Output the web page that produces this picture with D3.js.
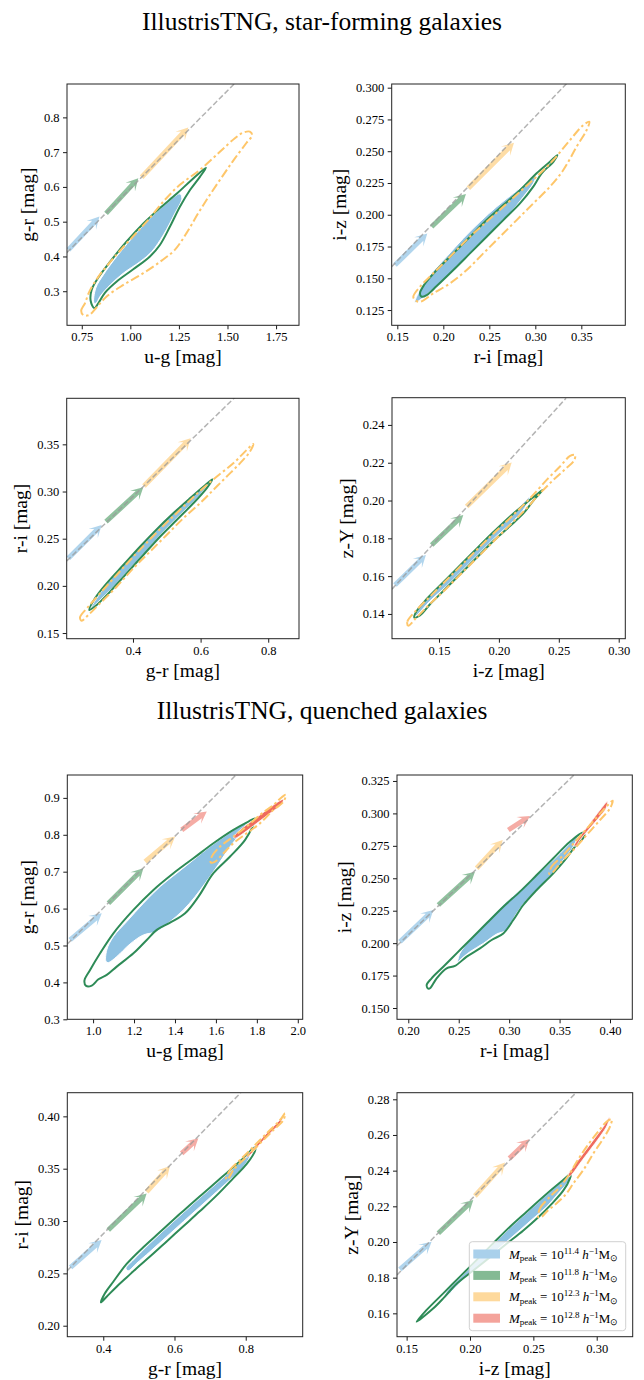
<!DOCTYPE html>
<html><head><meta charset="utf-8">
<script src="https://cdn.jsdelivr.net/npm/d3@7"></script>
<style>body{margin:0;background:#fff} svg text{font-family:"Liberation Serif","Times New Roman",serif;fill:#000}</style>
</head><body><svg id="chart" width="644" height="1380" font-family="Liberation Serif"></svg>
<script>
// ---------- titles / legend ----------
const titles = ["IllustrisTNG, star-forming galaxies", "IllustrisTNG, quenched galaxies"];
const legendMasses = ["11.4", "11.8", "12.3", "12.8"];

// ---------- Panel 1: star-forming, u-g vs g-r ----------
const p1XDomain = [0.674, 1.868], p1YDomain = [0.202, 0.896];
const p1XTicks = [0.75, 1.00, 1.25, 1.50, 1.75], p1YTicks = [0.3, 0.4, 0.5, 0.6, 0.7, 0.8];
const p1Line = [[0.673, 0.411], [1.541, 0.90]];
const p1Arrows = [[0.6815, 0.419, 0.841, 0.5146], [0.875, 0.524, 1.041, 0.625], [1.058, 0.628, 1.298, 0.771]];
const p1Blue = [[0.813,0.266],[0.822,0.309],[0.861,0.347],[0.930,0.400],[1.015,0.457],[1.101,0.510],[1.187,0.553],[1.255,0.580],[1.265,0.567],[1.229,0.524],[1.170,0.462],[1.110,0.414],[1.050,0.385],[0.964,0.352],[0.896,0.318],[0.844,0.285],[0.824,0.266]];
const p1Green = [[0.815,0.251],[0.796,0.272],[0.801,0.304],[0.836,0.340],[0.896,0.385],[0.981,0.443],[1.067,0.495],[1.152,0.539],[1.238,0.580],[1.315,0.620],[1.389,0.655],[1.358,0.629],[1.307,0.591],[1.255,0.543],[1.204,0.486],[1.152,0.433],[1.101,0.400],[1.015,0.363],[0.930,0.328],[0.870,0.296],[0.836,0.266]];
const p1Orange = [[0.759,0.231],[0.747,0.244],[0.767,0.266],[0.789,0.299],[0.836,0.342],[0.913,0.395],[0.998,0.448],[1.084,0.500],[1.170,0.558],[1.255,0.606],[1.358,0.649],[1.461,0.701],[1.538,0.740],[1.580,0.756],[1.615,0.759],[1.627,0.749],[1.598,0.727],[1.538,0.682],[1.478,0.634],[1.409,0.577],[1.349,0.524],[1.289,0.467],[1.229,0.419],[1.161,0.388],[1.067,0.352],[0.964,0.318],[0.878,0.285],[0.827,0.254],[0.789,0.232]];

// ---------- Panel 2: star-forming, r-i vs i-z ----------
const p2XDomain = [0.1439, 0.3978], p2YDomain = [0.113, 0.3029];
const p2XTicks = [0.15, 0.20, 0.25, 0.30, 0.35], p2YTicks = [0.125, 0.150, 0.175, 0.200, 0.225, 0.250, 0.275, 0.300];
const p2Line = [[0.1438, 0.159], [0.335, 0.304]];
const p2Arrows = [[0.1475, 0.1604, 0.1826, 0.1853], [0.1873, 0.1906, 0.2246, 0.2163], [0.2272, 0.2208, 0.2768, 0.2567]];
const p2Blue = [[0.1692,0.1310],[0.1746,0.1407],[0.1855,0.1525],[0.2036,0.1670],[0.2217,0.1814],[0.2399,0.1945],[0.2580,0.2063],[0.2761,0.2168],[0.2924,0.2260],[0.3007,0.2305],[0.2978,0.2247],[0.2870,0.2142],[0.2725,0.2011],[0.2543,0.1880],[0.2362,0.1748],[0.2181,0.1617],[0.2000,0.1486],[0.1855,0.1394],[0.1746,0.1329]];
const p2Green = [[0.1764,0.1355],[0.1746,0.1381],[0.1790,0.1447],[0.1928,0.1565],[0.2109,0.1696],[0.2290,0.1827],[0.2471,0.1958],[0.2652,0.2076],[0.2833,0.2194],[0.3014,0.2326],[0.3159,0.2417],[0.3239,0.2470],[0.3196,0.2417],[0.3069,0.2326],[0.2978,0.2221],[0.2833,0.2089],[0.2652,0.1958],[0.2471,0.1827],[0.2290,0.1696],[0.2109,0.1565],[0.1928,0.1439],[0.1819,0.1368]];
const p2Orange = [[0.1692,0.1329],[0.1674,0.1355],[0.1746,0.1433],[0.1928,0.1565],[0.2109,0.1696],[0.2290,0.1827],[0.2471,0.1945],[0.2652,0.2063],[0.2833,0.2181],[0.3014,0.2299],[0.3196,0.2431],[0.3377,0.2588],[0.3522,0.2706],[0.3587,0.2732],[0.3558,0.2667],[0.3449,0.2536],[0.3304,0.2352],[0.3159,0.2221],[0.2978,0.2089],[0.2797,0.1958],[0.2616,0.1827],[0.2435,0.1696],[0.2254,0.1565],[0.2072,0.1460],[0.1891,0.1381],[0.1746,0.1315]];

// ---------- Panel 3: star-forming, g-r vs r-i ----------
const p3XDomain = [0.204, 0.891], p3YDomain = [0.144, 0.3988];
const p3XTicks = [0.4, 0.6, 0.8], p3YTicks = [0.15, 0.20, 0.25, 0.30, 0.35];
const p3Line = [[0.204, 0.2263], [0.7015, 0.3998]];
const p3Arrows = [[0.2089, 0.2292, 0.3074, 0.2645], [0.3202, 0.2680, 0.4305, 0.3044], [0.4325, 0.3058, 0.5704, 0.3564]];
const p3Blue = [[0.2749,0.1761],[0.3025,0.1920],[0.3517,0.2150],[0.4010,0.2345],[0.4502,0.2539],[0.4995,0.2716],[0.5488,0.2875],[0.5980,0.3016],[0.6227,0.3080],[0.5980,0.2963],[0.5488,0.2786],[0.4995,0.2610],[0.4502,0.2415],[0.4010,0.2221],[0.3517,0.2027],[0.3025,0.1850]];
const p3Green = [[0.2709,0.1744],[0.2877,0.1868],[0.3222,0.2027],[0.3714,0.2221],[0.4207,0.2415],[0.4700,0.2599],[0.5192,0.2769],[0.5685,0.2928],[0.6079,0.3051],[0.6345,0.3129],[0.6177,0.3034],[0.5783,0.2875],[0.5291,0.2698],[0.4798,0.2521],[0.4305,0.2327],[0.3813,0.2133],[0.3320,0.1938],[0.2926,0.1797]];
const p3Orange = [[0.2483,0.1631],[0.2433,0.1666],[0.2680,0.1779],[0.3025,0.1920],[0.3517,0.2115],[0.4010,0.2309],[0.4502,0.2493],[0.4995,0.2670],[0.5488,0.2839],[0.5980,0.3005],[0.6473,0.3157],[0.6966,0.3299],[0.7360,0.3440],[0.7557,0.3504],[0.7458,0.3422],[0.7163,0.3299],[0.6768,0.3157],[0.6374,0.3016],[0.5980,0.2875],[0.5488,0.2716],[0.4995,0.2539],[0.4502,0.2362],[0.4010,0.2186],[0.3517,0.1991],[0.3025,0.1814],[0.2680,0.1691]];

// ---------- Panel 4: star-forming, i-z vs z-Y ----------
const p4XDomain = [0.1108, 0.3055], p4YDomain = [0.1269, 0.2544];
const p4XTicks = [0.15, 0.20, 0.25, 0.30], p4YTicks = [0.14, 0.16, 0.18, 0.20, 0.22, 0.24];
const p4Line = [[0.1108, 0.1531], [0.2560, 0.2541]];
const p4Arrows = [[0.1133, 0.1553, 0.1391, 0.1712], [0.1439, 0.1765, 0.1703, 0.1924], [0.1731, 0.1968, 0.2107, 0.2201]];
const p4Blue = [[0.1294,0.1382],[0.1341,0.1434],[0.1453,0.1515],[0.1592,0.1605],[0.1731,0.1693],[0.1870,0.1781],[0.2009,0.1868],[0.2148,0.1950],[0.2254,0.2017],[0.2218,0.1964],[0.2121,0.1892],[0.1981,0.1812],[0.1842,0.1724],[0.1703,0.1636],[0.1564,0.1548],[0.1425,0.1469],[0.1327,0.1400]];
const p4Green = [[0.1294,0.1381],[0.1314,0.1415],[0.1397,0.1479],[0.1536,0.1568],[0.1675,0.1656],[0.1814,0.1745],[0.1954,0.1833],[0.2093,0.1916],[0.2232,0.1990],[0.2315,0.2032],[0.2366,0.2056],[0.2288,0.2000],[0.2210,0.1936],[0.2093,0.1865],[0.1954,0.1786],[0.1814,0.1697],[0.1675,0.1609],[0.1536,0.1521],[0.1425,0.1451],[0.1341,0.1392]];
const p4Orange = [[0.1244,0.1338],[0.1236,0.1359],[0.1300,0.1412],[0.1425,0.1492],[0.1564,0.1580],[0.1703,0.1668],[0.1842,0.1756],[0.1981,0.1841],[0.2121,0.1924],[0.2260,0.2012],[0.2399,0.2109],[0.2510,0.2180],[0.2594,0.2236],[0.2636,0.2241],[0.2627,0.2211],[0.2552,0.2165],[0.2455,0.2109],[0.2343,0.2038],[0.2232,0.1959],[0.2107,0.1880],[0.1981,0.1800],[0.1842,0.1712],[0.1703,0.1624],[0.1564,0.1536],[0.1425,0.1453],[0.1314,0.1382]];

// ---------- Panel 5: quenched, u-g vs g-r ----------
const p5XDomain = [0.874, 2.024], p5YDomain = [0.300, 0.962];
const p5XTicks = [1.0, 1.2, 1.4, 1.6, 1.8, 2.0], p5YTicks = [0.3, 0.4, 0.5, 0.6, 0.7, 0.8, 0.9];
const p5Line = [[0.8746, 0.5042], [1.6987, 0.9623]];
const p5Arrows = [[0.8876, 0.5151, 1.0423, 0.5874], [1.0749, 0.6145, 1.2459, 0.7093], [1.2541, 0.7274, 1.4007, 0.7952], [1.4332, 0.8133, 1.5554, 0.8630]];
const p5Blue = [[1.0635,0.4563],[1.0668,0.4880],[1.0993,0.5241],[1.1645,0.5648],[1.2459,0.6145],[1.3274,0.6596],[1.4088,0.6958],[1.4902,0.7319],[1.5717,0.7681],[1.6531,0.7997],[1.7182,0.8241],[1.7508,0.8358],[1.7264,0.8087],[1.6694,0.7681],[1.6100,0.7180],[1.5472,0.6687],[1.4984,0.6325],[1.4414,0.5964],[1.3762,0.5648],[1.3111,0.5377],[1.2459,0.5286],[1.1808,0.5042],[1.1156,0.4699],[1.0749,0.4536]];
const p5Green = [[0.9658,0.3904],[0.9577,0.4048],[0.9853,0.4337],[1.0342,0.4789],[1.0993,0.5331],[1.1971,0.5964],[1.2948,0.6506],[1.3925,0.6958],[1.4902,0.7364],[1.5879,0.7771],[1.6857,0.8133],[1.7590,0.8358],[1.7915,0.8440],[1.7801,0.8241],[1.7427,0.7861],[1.6694,0.7410],[1.5879,0.6958],[1.5147,0.6325],[1.4495,0.5874],[1.3762,0.5621],[1.3111,0.5422],[1.2622,0.5151],[1.1971,0.4789],[1.1156,0.4428],[1.0668,0.4202],[1.0261,0.4085],[0.9935,0.3913]];
const p5Orange = [[1.5749,0.7247],[1.5798,0.7410],[1.6205,0.7681],[1.6857,0.7952],[1.7508,0.8223],[1.8160,0.8539],[1.8811,0.8810],[1.9218,0.9018],[1.9414,0.9081],[1.9300,0.8901],[1.8811,0.8675],[1.8160,0.8313],[1.7508,0.8042],[1.6857,0.7771],[1.6368,0.7500],[1.5961,0.7274]];
const p5Red = [[1.6857,0.7934],[1.7182,0.8133],[1.7834,0.8404],[1.8485,0.8675],[1.9137,0.8928],[1.9300,0.8964],[1.9218,0.8837],[1.8648,0.8584],[1.7997,0.8313],[1.7345,0.8042],[1.6938,0.7907]];

// ---------- Panel 6: quenched, r-i vs i-z ----------
const p6XDomain = [0.1888, 0.4221], p6YDomain = [0.1413, 0.3296];
const p6XTicks = [0.20, 0.25, 0.30, 0.35, 0.40], p6YTicks = [0.150, 0.175, 0.200, 0.225, 0.250, 0.275, 0.300, 0.325];
const p6Line = [[0.1888, 0.1980], [0.3643, 0.3296]];
const p6Arrows = [[0.1917, 0.2011, 0.2248, 0.2255], [0.2298, 0.2294, 0.2661, 0.2551], [0.2678, 0.2577, 0.2936, 0.2795], [0.2992, 0.2872, 0.3207, 0.2980]];
const p6Blue = [[0.2489,0.1849],[0.2512,0.1921],[0.2612,0.2024],[0.2777,0.2165],[0.2942,0.2294],[0.3107,0.2410],[0.3273,0.2525],[0.3438,0.2641],[0.3570,0.2744],[0.3686,0.2841],[0.3636,0.2744],[0.3537,0.2641],[0.3438,0.2538],[0.3306,0.2435],[0.3174,0.2333],[0.3074,0.2230],[0.2975,0.2101],[0.2876,0.2070],[0.2744,0.1998],[0.2612,0.1934],[0.2512,0.1870]];
const p6Green = [[0.2198,0.1649],[0.2182,0.1677],[0.2231,0.1729],[0.2347,0.1818],[0.2479,0.1921],[0.2612,0.2024],[0.2777,0.2153],[0.2942,0.2281],[0.3107,0.2397],[0.3273,0.2525],[0.3438,0.2654],[0.3603,0.2782],[0.3736,0.2852],[0.3742,0.2821],[0.3653,0.2744],[0.3554,0.2641],[0.3438,0.2538],[0.3273,0.2410],[0.3140,0.2294],[0.3041,0.2178],[0.2942,0.2075],[0.2826,0.2024],[0.2711,0.1960],[0.2579,0.1896],[0.2463,0.1824],[0.2380,0.1806],[0.2281,0.1729],[0.2221,0.1657]];
const p6Orange = [[0.3398,0.2533],[0.3421,0.2590],[0.3537,0.2679],[0.3669,0.2795],[0.3802,0.2911],[0.3934,0.3026],[0.4026,0.3098],[0.4000,0.3039],[0.3901,0.2949],[0.3769,0.2834],[0.3636,0.2718],[0.3504,0.2615],[0.3438,0.2551]];
const p6Red = [[0.3643,0.2749],[0.3702,0.2821],[0.3802,0.2924],[0.3901,0.3026],[0.3974,0.3091],[0.3960,0.3039],[0.3884,0.2962],[0.3785,0.2872],[0.3702,0.2795],[0.3663,0.2749]];

// ---------- Panel 7: quenched, g-r vs r-i ----------
const p7XDomain = [0.299, 0.960], p7YDomain = [0.1895, 0.4226];
const p7XTicks = [0.4, 0.6, 0.8], p7YTicks = [0.20, 0.25, 0.30, 0.35, 0.40];
const p7Line = [[0.2988, 0.2525], [0.7860, 0.4226]];
const p7Arrows = [[0.3082, 0.2557, 0.3953, 0.2818], [0.4141, 0.2914, 0.5218, 0.3264], [0.5218, 0.3280, 0.5874, 0.3525], [0.6201, 0.3646, 0.6670, 0.3790]];
const p7Blue = [[0.4637,0.2548],[0.4843,0.2627],[0.5311,0.2787],[0.5780,0.2936],[0.6248,0.3080],[0.6717,0.3223],[0.7185,0.3360],[0.7653,0.3503],[0.7981,0.3608],[0.8103,0.3631],[0.8103,0.3608],[0.7934,0.3519],[0.7653,0.3424],[0.7185,0.3280],[0.6717,0.3137],[0.6248,0.2994],[0.5780,0.2850],[0.5311,0.2707],[0.4937,0.2596],[0.4703,0.2525]];
const p7Green = [[0.3934,0.2223],[0.4047,0.2309],[0.4281,0.2420],[0.4656,0.2590],[0.5124,0.2750],[0.5593,0.2895],[0.6061,0.3040],[0.6529,0.3183],[0.6998,0.3320],[0.7466,0.3460],[0.7934,0.3600],[0.8262,0.3704],[0.8262,0.3672],[0.8028,0.3545],[0.7653,0.3410],[0.7185,0.3245],[0.6717,0.3095],[0.6248,0.2950],[0.5780,0.2805],[0.5311,0.2660],[0.4937,0.2550],[0.4656,0.2460],[0.4375,0.2373],[0.4094,0.2277]];
const p7Orange = [[0.7447,0.3398],[0.7560,0.3487],[0.7841,0.3583],[0.8215,0.3710],[0.8590,0.3838],[0.8965,0.3965],[0.9105,0.4029],[0.9059,0.3965],[0.8778,0.3869],[0.8403,0.3742],[0.8028,0.3615],[0.7653,0.3487],[0.7513,0.3408]];
const p7Red = [[0.7981,0.3599],[0.8215,0.3694],[0.8496,0.3806],[0.8778,0.3901],[0.9040,0.3990],[0.8965,0.3933],[0.8684,0.3838],[0.8403,0.3736],[0.8122,0.3631]];

// ---------- Panel 8: quenched, i-z vs z-Y ----------
const p8XDomain = [0.1424, 0.3284], p8YDomain = [0.1469, 0.2837];
const p8XTicks = [0.15, 0.20, 0.25, 0.30], p8YTicks = [0.16, 0.18, 0.20, 0.22, 0.24, 0.26, 0.28];
const p8Line = [[0.1424, 0.1815], [0.2837, 0.2837]];
const p8Arrows = [[0.1447, 0.1847, 0.1697, 0.2002], [0.1750, 0.2049, 0.2026, 0.2236], [0.2039, 0.2258, 0.2276, 0.2445], [0.2311, 0.2469, 0.2468, 0.2576]];
const p8Blue = [[0.1789,0.1679],[0.1816,0.1722],[0.1921,0.1799],[0.2053,0.1892],[0.2184,0.1986],[0.2316,0.2079],[0.2447,0.2163],[0.2579,0.2248],[0.2711,0.2330],[0.2803,0.2376],[0.2776,0.2338],[0.2697,0.2273],[0.2605,0.2198],[0.2500,0.2133],[0.2395,0.2067],[0.2289,0.2002],[0.2184,0.1936],[0.2053,0.1852],[0.1921,0.1772],[0.1829,0.1703]];
const p8Green = [[0.1579,0.1553],[0.1658,0.1619],[0.1789,0.1712],[0.1921,0.1806],[0.2053,0.1899],[0.2184,0.1993],[0.2316,0.2086],[0.2447,0.2170],[0.2579,0.2254],[0.2711,0.2333],[0.2795,0.2381],[0.2789,0.2357],[0.2737,0.2289],[0.2645,0.2214],[0.2539,0.2139],[0.2421,0.2065],[0.2289,0.1990],[0.2158,0.1915],[0.2026,0.1840],[0.1895,0.1766],[0.1789,0.1684],[0.1711,0.1628],[0.1632,0.1581]];
const p8Orange = [[0.2539,0.2138],[0.2553,0.2189],[0.2632,0.2254],[0.2711,0.2310],[0.2789,0.2385],[0.2842,0.2450],[0.2921,0.2535],[0.3000,0.2609],[0.3079,0.2675],[0.3118,0.2688],[0.3105,0.2647],[0.3053,0.2581],[0.2974,0.2497],[0.2895,0.2404],[0.2816,0.2329],[0.2763,0.2273],[0.2684,0.2217],[0.2605,0.2170],[0.2566,0.2142]];
const p8Red = [[0.2776,0.2376],[0.2816,0.2422],[0.2895,0.2497],[0.2974,0.2572],[0.3053,0.2647],[0.3100,0.2699],[0.3084,0.2656],[0.3026,0.2591],[0.2947,0.2516],[0.2868,0.2441],[0.2816,0.2389],[0.2784,0.2366]];

// ---------- layout table built from the arrays ----------
const panels = [
  {box:[67,84,299,325.3], xd:p1XDomain, yd:p1YDomain, xt:p1XTicks, yt:p1YTicks, xf:".2f", yf:".1f", xl:"u-g [mag]", yl:"g-r [mag]", line:p1Line, arrows:p1Arrows, blue:p1Blue, green:p1Green, orange:p1Orange, red:null},
  {box:[391.7,84,625.3,325.3], xd:p2XDomain, yd:p2YDomain, xt:p2XTicks, yt:p2YTicks, xf:".2f", yf:".3f", xl:"r-i [mag]", yl:"i-z [mag]", line:p2Line, arrows:p2Arrows, blue:p2Blue, green:p2Green, orange:p2Orange, red:null},
  {box:[66.7,398.3,299,638.7], xd:p3XDomain, yd:p3YDomain, xt:p3XTicks, yt:p3YTicks, xf:".1f", yf:".2f", xl:"g-r [mag]", yl:"r-i [mag]", line:p3Line, arrows:p3Arrows, blue:p3Blue, green:p3Green, orange:p3Orange, red:null},
  {box:[392,397.7,625.3,638.7], xd:p4XDomain, yd:p4YDomain, xt:p4XTicks, yt:p4YTicks, xf:".2f", yf:".2f", xl:"i-z [mag]", yl:"z-Y [mag]", line:p4Line, arrows:p4Arrows, blue:p4Blue, green:p4Green, orange:p4Orange, red:null},
  {box:[67.3,775,302.7,1019.3], xd:p5XDomain, yd:p5YDomain, xt:p5XTicks, yt:p5YTicks, xf:".1f", yf:".1f", xl:"u-g [mag]", yl:"g-r [mag]", line:p5Line, arrows:p5Arrows, blue:p5Blue, green:p5Green, orange:p5Orange, red:p5Red},
  {box:[397,775,632.3,1019.3], xd:p6XDomain, yd:p6YDomain, xt:p6XTicks, yt:p6YTicks, xf:".2f", yf:".3f", xl:"r-i [mag]", yl:"i-z [mag]", line:p6Line, arrows:p6Arrows, blue:p6Blue, green:p6Green, orange:p6Orange, red:p6Red},
  {box:[67.3,1092.7,302.7,1336.7], xd:p7XDomain, yd:p7YDomain, xt:p7XTicks, yt:p7YTicks, xf:".1f", yf:".2f", xl:"g-r [mag]", yl:"r-i [mag]", line:p7Line, arrows:p7Arrows, blue:p7Blue, green:p7Green, orange:p7Orange, red:p7Red},
  {box:[397,1092.7,632.7,1336.7], xd:p8XDomain, yd:p8YDomain, xt:p8XTicks, yt:p8YTicks, xf:".2f", yf:".2f", xl:"i-z [mag]", yl:"z-Y [mag]", line:p8Line, arrows:p8Arrows, blue:p8Blue, green:p8Green, orange:p8Orange, red:p8Red}
];

const FONT = '"Liberation Serif", "Times New Roman", serif';
const arrowColors = ["#a9d0eb", "#84ba94", "#fed99c", "#f4a39b"];
const BLUE = "#8ec1e2", GREEN = "#2e8b57", ORANGE = "#fec66a", RED = "#ef6b5e";

const svg = d3.select("#chart");
svg.append("rect").attr("width",644).attr("height",1380).attr("fill","#fff");

svg.append("text").attr("x",322).attr("y",30).attr("text-anchor","middle").style("font-family",FONT).style("font-size","25.5px").text(titles[0]);
svg.append("text").attr("x",322).attr("y",719).attr("text-anchor","middle").style("font-family",FONT).style("font-size","25.5px").text(titles[1]);

panels.forEach((p, i) => {
  const [l, t, r, b] = p.box;
  const x = d3.scaleLinear().domain(p.xd).range([l, r]);
  const y = d3.scaleLinear().domain(p.yd).range([b, t]);
  const clipId = "clip" + i;
  svg.append("clipPath").attr("id", clipId).append("rect")
    .attr("x", l).attr("y", t).attr("width", r - l).attr("height", b - t);
  const g = svg.append("g");
  const pg = g.append("g").attr("clip-path", `url(#${clipId})`);

  // arrows
  const w = 5, hw = 13, hl = 12, notch = 4;
  p.arrows.forEach((a, k) => {
    const x0 = x(a[0]), y0 = y(a[1]), x1 = x(a[2]), y1 = y(a[3]);
    const L = Math.hypot(x1 - x0, y1 - y0);
    const ang = Math.atan2(y1 - y0, x1 - x0) * 180 / Math.PI;
    const pts = [[0,-w/2],[L-hl+notch,-w/2],[L-hl,-hw/2],[L,0],[L-hl,hw/2],[L-hl+notch,w/2],[0,w/2]];
    pg.append("polygon")
      .attr("points", pts.map(q => q.join(",")).join(" "))
      .attr("transform", `translate(${x0},${y0}) rotate(${ang})`)
      .attr("fill", arrowColors[k]).attr("fill-opacity", 0.9);
  });

  // dashed reference line
  pg.append("line")
    .attr("x1", x(p.line[0][0])).attr("y1", y(p.line[0][1]))
    .attr("x2", x(p.line[1][0])).attr("y2", y(p.line[1][1]))
    .attr("stroke", "#9a9a9a").attr("stroke-opacity", 0.75).attr("stroke-width", 1.5)
    .attr("stroke-dasharray", "5.5,2.5");

  const shape = d3.line().x(d => x(d[0])).y(d => y(d[1])).curve(d3.curveCatmullRomClosed.alpha(0.5));
  pg.append("path").datum(p.blue).attr("d", shape)
    .attr("fill", BLUE).attr("stroke", "#fff").attr("stroke-width", 1);
  pg.append("path").datum(p.green).attr("d", shape)
    .attr("fill", "none").attr("stroke", GREEN).attr("stroke-width", 2).attr("stroke-linejoin","round");
  if (p.red) {
    pg.append("path").datum(p.red).attr("d", shape)
      .attr("fill", RED).attr("stroke", "#fff").attr("stroke-width", 0.8);
  }
  pg.append("path").datum(p.orange).attr("d", shape)
    .attr("fill", "none").attr("stroke", ORANGE).attr("stroke-width", 2)
    .attr("stroke-dasharray", "9,3,2.5,3");

  // axes
  const xa = g.append("g").attr("transform", `translate(0,${b})`)
    .call(d3.axisBottom(x).tickValues(p.xt).tickFormat(d3.format(p.xf)).tickSizeOuter(0).tickSize(4).tickPadding(3));
  const ya = g.append("g").attr("transform", `translate(${l},0)`)
    .call(d3.axisLeft(y).tickValues(p.yt).tickFormat(d3.format(p.yf)).tickSizeOuter(0).tickSize(4).tickPadding(3.5));
  [xa, ya].forEach(ax => {
    ax.attr("font-family", FONT).attr("font-size", 12.5);
    ax.select(".domain").remove();
    ax.selectAll(".tick line").attr("stroke", "#000").attr("stroke-width", 0.9);
    ax.selectAll(".tick text").style("font-family", FONT).style("font-size", "12.5px").attr("fill", "#000");
  });
  g.append("rect").attr("x", l).attr("y", t).attr("width", r - l).attr("height", b - t)
    .attr("fill", "none").attr("stroke", "#222").attr("stroke-width", 1);

  // axis labels
  g.append("text").attr("x", (l + r) / 2).attr("y", b + 38).attr("text-anchor", "middle")
    .style("font-family", FONT).style("font-size", "19.5px").text(p.xl);
  const bb = ya.node().getBBox();
  const lx = l + bb.x - 10;
  g.append("text").attr("transform", `translate(${lx},${(t + b) / 2}) rotate(-90)`)
    .attr("text-anchor", "middle").style("font-family", FONT).style("font-size", "19.5px").text(p.yl);
});

// legend (in last panel)
const lg = svg.append("g");
lg.append("rect").attr("x", 469.3).attr("y", 1241.7).attr("width", 156.4).attr("height", 89).attr("rx", 3)
  .attr("fill", "#fff").attr("fill-opacity", 0.8).attr("stroke", "#d0d0d0").attr("stroke-width", 1);
legendMasses.forEach((m, k) => {
  const cy = 1254 + k * 21.4;
  lg.append("rect").attr("x", 473.3).attr("y", cy - 4.5).attr("width", 26.7).attr("height", 9).attr("fill", arrowColors[k]);
  const tx = lg.append("text").attr("x", 509).attr("y", cy + 4.5).style("font-family", FONT).style("font-size", "13px");
  tx.append("tspan").style("font-style", "italic").text("M");
  tx.append("tspan").attr("dy", 2.5).style("font-size", "9px").text("peak");
  tx.append("tspan").attr("dy", -2.5).text(" = 10");
  tx.append("tspan").attr("dy", -5).style("font-size", "9px").text(m);
  tx.append("tspan").attr("dy", 5).text(" ");
  tx.append("tspan").style("font-style", "italic").text("h");
  tx.append("tspan").attr("dy", -5).style("font-size", "9px").text("−1");
  tx.append("tspan").attr("dy", 5).text("M");
  tx.append("tspan").attr("dy", 2.5).style("font-size", "9px").text("⊙");
});
</script>
</body></html>
